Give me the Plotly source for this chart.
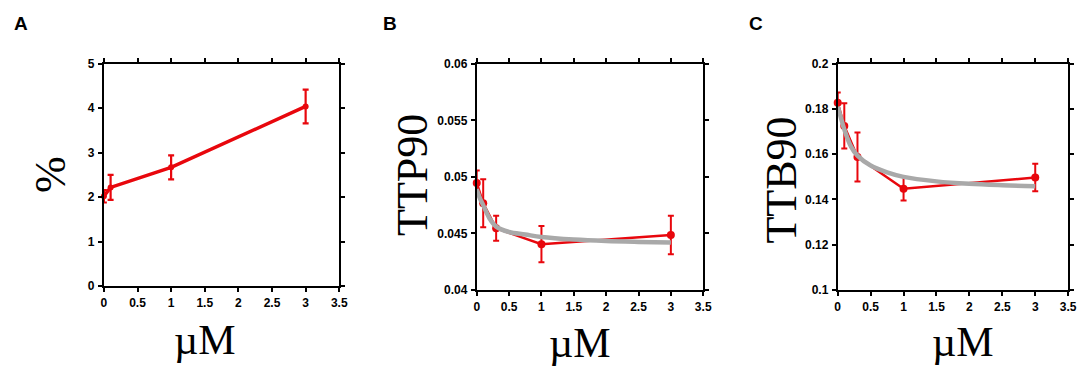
import plotly.graph_objects as go

# ---------------- data ----------------
conc_A = [0, 0.1, 1, 3]
pct_A = [2.02, 2.22, 2.67, 4.04]
pct_A_err = [0.14, 0.28, 0.27, 0.38]

conc_BC = [0, 0.1, 0.3, 1, 3]
ttp90 = [0.04946, 0.04767, 0.04545, 0.04405, 0.04485]
ttp90_err = [0.0011, 0.00212, 0.0011, 0.0016, 0.0017]
ttb90 = [0.1828, 0.1725, 0.1588, 0.1447, 0.1497]
ttb90_err = [0.0045, 0.0100, 0.0108, 0.0052, 0.0061]

fit_x = [0, 0.05, 0.1, 0.2, 0.3, 0.5, 0.75, 1, 1.5, 2, 2.5, 3]
ttp90_fit = [0.0489, 0.0481, 0.0475, 0.0463, 0.0456, 0.04512, 0.0449, 0.04468, 0.04445, 0.04432, 0.04425, 0.0442]
ttb90_fit = [0.1810, 0.1760, 0.1710, 0.1635, 0.1594, 0.1550, 0.1520, 0.1500, 0.1480, 0.1469, 0.1463, 0.1459]

x_ticks = [0, 0.5, 1, 1.5, 2, 2.5, 3, 3.5]
x_ticktext = ["0", "0.5", "1", "1.5", "2", "2.5", "3", "3.5"]
yA_ticks = [0, 1, 2, 3, 4, 5]
yA_text = ["0", "1", "2", "3", "4", "5"]
yB_ticks = [0.04, 0.045, 0.05, 0.055, 0.06]
yB_text = ["0.04", "0.045", "0.05", "0.055", "0.06"]
yC_ticks = [0.1, 0.12, 0.14, 0.16, 0.18, 0.2]
yC_text = ["0.1", "0.12", "0.14", "0.16", "0.18", "0.2"]

panel_letters = ["A", "B", "C"]
y_titles = ["%", "TTP90", "TTB90"]
x_title = "\u00b5M"

# ---------------- layout helpers ----------------
W, H = 1091, 372
RED = "#e8070d"
GRAY = "#a9a9a9"


def fx(px):
    return px / W


def fy(py):
    return 1 - py / H


fig = go.Figure()

# Panel A
fig.add_trace(go.Scatter(
    x=conc_A, y=pct_A, mode="lines+markers",
    line=dict(color=RED, width=3.5), marker=dict(color=RED, size=6),
    error_y=dict(type="data", array=pct_A_err, color=RED, thickness=2.2, width=3),
    xaxis="x", yaxis="y", cliponaxis=False, showlegend=False))

# Panel B
fig.add_trace(go.Scatter(
    x=conc_BC, y=ttp90, mode="lines+markers",
    line=dict(color=RED, width=2.5), marker=dict(color=RED, size=8),
    error_y=dict(type="data", array=ttp90_err, color=RED, thickness=2, width=3),
    xaxis="x2", yaxis="y2", cliponaxis=False, showlegend=False))
fig.add_trace(go.Scatter(
    x=fit_x, y=ttp90_fit, mode="lines", line=dict(color=GRAY, width=4.5, shape="spline"),
    xaxis="x2", yaxis="y2", showlegend=False))

# Panel C
fig.add_trace(go.Scatter(
    x=conc_BC, y=ttb90, mode="lines+markers",
    line=dict(color=RED, width=2.5), marker=dict(color=RED, size=8),
    error_y=dict(type="data", array=ttb90_err, color=RED, thickness=2, width=3),
    xaxis="x3", yaxis="y3", cliponaxis=False, showlegend=False))
fig.add_trace(go.Scatter(
    x=fit_x, y=ttb90_fit, mode="lines", line=dict(color=GRAY, width=4.5, shape="spline"),
    xaxis="x3", yaxis="y3", showlegend=False))

tickfont = dict(family="Liberation Sans, Arial, sans-serif", size=12, color="black", weight="bold")

panels = [
    # (x0, x1, ytop, ybottom)
    (102, 340, 59, 290),
    (479, 708, 59, 294),
    (844, 1077, 59, 294),
]
yranges = [[0, 5], [0.04, 0.06], [0.1, 0.2]]
yticks = [(yA_ticks, yA_text), (yB_ticks, yB_text), (yC_ticks, yC_text)]

axis_common = dict(showline=True, linecolor="black", linewidth=2, mirror="ticks",
                   ticks="outside", ticklen=4, tickwidth=2, tickcolor="black",
                   showgrid=False, zeroline=False, tickfont=tickfont, fixedrange=True)

for i, (x0, x1, yt, yb) in enumerate(panels):
    sfx = "" if i == 0 else str(i + 1)
    fig.layout["xaxis" + sfx] = dict(
        domain=[fx(x0), fx(x1)], range=[0, 3.5], tickvals=x_ticks, ticktext=x_ticktext,
        anchor="y" + sfx, ticklabelstandoff=1, **axis_common)
    fig.layout["yaxis" + sfx] = dict(
        domain=[fy(yb), fy(yt)], range=yranges[i], tickvals=yticks[i][0], ticktext=yticks[i][1],
        anchor="x" + sfx, ticklabelstandoff=1, **axis_common)

annotations = []
letter_pos = [(9, 17), (382, 17), (752, 17)]
for (lx, ly), letter in zip(letter_pos, panel_letters):
    annotations.append(dict(x=fx(lx), y=fy(ly), xref="paper", yref="paper", text=letter,
                            showarrow=False, xanchor="left", yanchor="middle",
                            font=dict(family="Liberation Sans, Arial, sans-serif", size=19,
                                      color="black", weight="bold")))

ytitle_pos = [(48, 174), (414, 174), (787, 180)]
for (tx, ty), t in zip(ytitle_pos, y_titles):
    annotations.append(dict(x=fx(tx), y=fy(ty), xref="paper", yref="paper", text=t,
                            showarrow=False, xanchor="center", yanchor="middle", textangle=-90,
                            font=dict(family="Liberation Serif, Times New Roman, serif", size=44,
                                      color="black")))

xtitle_pos = [(204, 346), (583, 349), (971, 348)]
for (tx, ty) in xtitle_pos:
    annotations.append(dict(x=fx(tx), y=fy(ty), xref="paper", yref="paper", text=x_title,
                            showarrow=False, xanchor="center", yanchor="middle",
                            font=dict(family="Liberation Serif, Times New Roman, serif", size=42,
                                      color="black")))

fig.update_layout(
    width=W, height=H, margin=dict(l=0, r=0, t=0, b=0),
    paper_bgcolor="white", plot_bgcolor="white", annotations=annotations)

post = (
    "var s=document.documentElement.style;s.margin='0';s.padding='0';s.overflow='hidden';"
    "var b=document.body.style;b.margin='0';b.padding='0';b.overflow='hidden';"
    "var d=document.getElementById('{plot_id}');d.style.position='absolute';"
    "d.style.left='0px';d.style.top='0px';"
)

fig.write_html("out.html", config={"displayModeBar": False}, post_script=post)
